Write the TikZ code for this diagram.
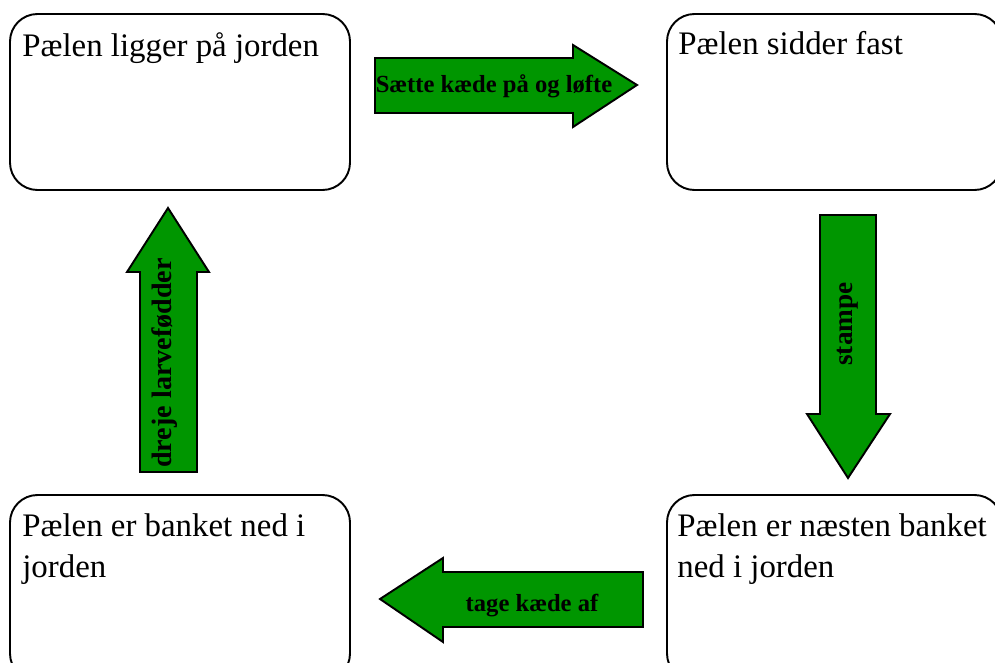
\documentclass[tikz,border=0pt]{standalone}
\usepackage{fontspec}
\setmainfont{Liberation Serif}
\definecolor{arrowgreen}{RGB}{0,150,0}
\tikzset{
  stage/.style={draw=black,line width=1.1pt,rounded corners=0.55cm},
  stagetext/.style={font=\fontsize{18.7}{22.8}\selectfont,text=black,align=left,inner sep=0pt,anchor=base west},
  blockarrow/.style={fill=arrowgreen,draw=black,line width=1.1pt},
  arrowtext/.style={font=\fontsize{14}{16}\selectfont\bfseries,text=black,inner sep=0pt}
}
\begin{document}
\begin{tikzpicture}
\useasboundingbox (0,0) rectangle (19.9,13.24);
\clip (0,0) rectangle (19.9,13.24);

\draw[stage] (0.2,9.44) rectangle (7.0,12.96);
\draw[stage] (13.34,9.44) rectangle (20.04,12.96);
\draw[stage] (0.2,-0.38) rectangle (7.0,3.34);
\draw[stage] (13.34,-0.38) rectangle (20.04,3.34);
\node[stagetext] (ligger) at (0.44,12.1) {Pælen ligger på jorden};
\node[stagetext] (fast) at (13.56,12.14) {Pælen sidder fast};
\node[stagetext] (banket) at (0.44,1.7) {Pælen er banket ned i\\jorden};
\node[stagetext] (naesten) at (13.54,1.7) {Pælen er næsten banket\\ned i jorden};

\draw[blockarrow] (7.5,10.98) -- (11.46,10.98) -- (11.46,10.7) -- (12.74,11.54) -- (11.46,12.34) -- (11.46,12.08) -- (7.5,12.08) -- cycle;
\node[arrowtext,anchor=base] (loefte) at (9.88,11.38) {Sætte kæde på og løfte};

\draw[blockarrow] (16.4,8.94) -- (17.52,8.94) -- (17.52,4.96) -- (17.8,4.96) -- (16.96,3.68) -- (16.14,4.96) -- (16.4,4.96) -- cycle;
\node[arrowtext,font=\fontsize{15.5}{17}\selectfont\bfseries,rotate=90] (stampe) at (16.96,6.76) {stampe};

\draw[blockarrow] (12.86,1.8) -- (12.86,0.7) -- (8.86,0.7) -- (8.86,0.4) -- (7.6,1.26) -- (8.86,2.08) -- (8.86,1.8) -- cycle;
\node[arrowtext,anchor=base] (kaede) at (10.64,1.02) {tage kæde af};

\draw[blockarrow] (2.8,3.8) -- (3.94,3.8) -- (3.94,7.8) -- (4.18,7.8) -- (3.36,9.08) -- (2.54,7.8) -- (2.8,7.8) -- cycle;
\node[arrowtext,font=\fontsize{16}{18}\selectfont\bfseries,rotate=90] (larve) at (3.3,5.98) {dreje larvefødder};

\end{tikzpicture}
\end{document}
